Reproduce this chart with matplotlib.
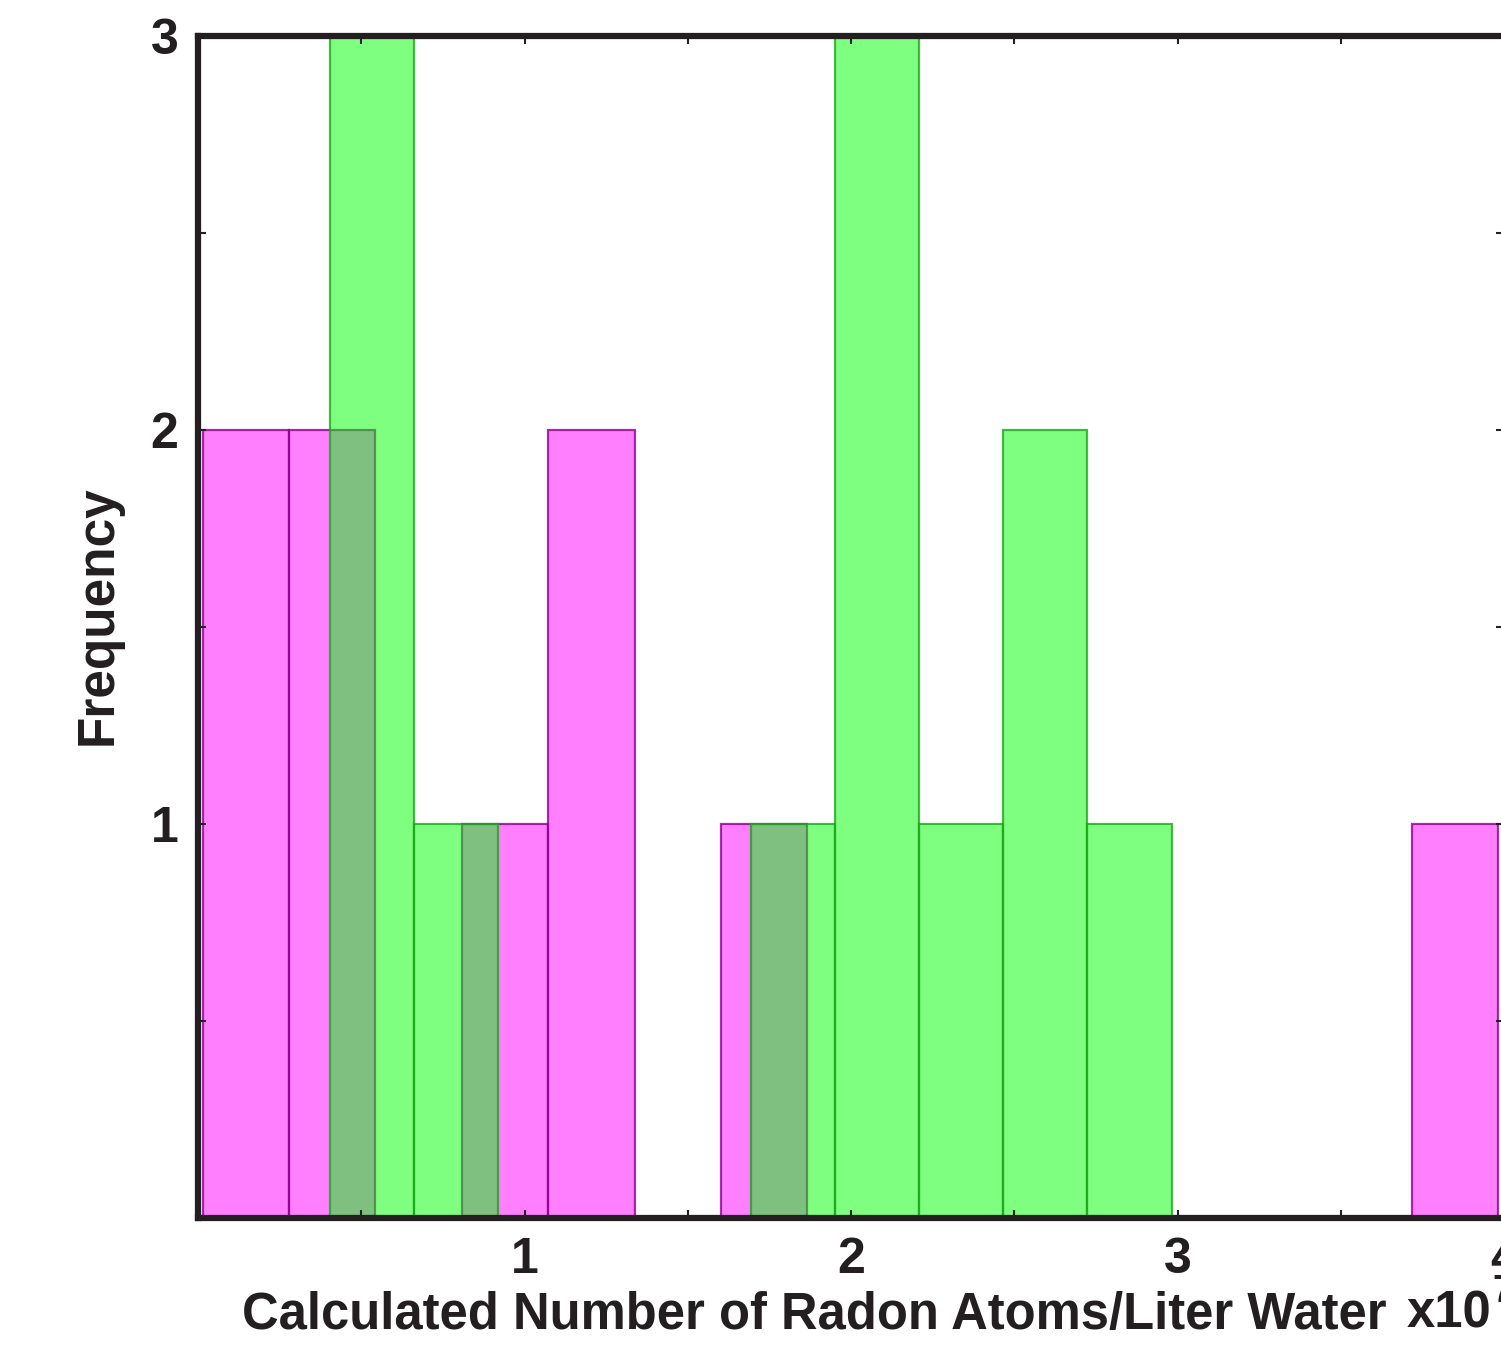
import numpy as np
import matplotlib
matplotlib.use("Agg")
import matplotlib.pyplot as plt
from matplotlib.ticker import FixedLocator

# Histogram bins (x in units of 1e7 atoms/L)
magenta_edges = [0.014, 0.279, 0.543, 0.808, 1.072, 1.337, 1.602, 1.866,
                 2.131, 2.395, 2.660, 2.925, 3.189, 3.454, 3.718, 3.983]
magenta_counts = [2, 2, 0, 1, 2, 0, 1, 0, 0, 0, 0, 0, 0, 0, 1]

green_edges = [0.403, 0.661, 0.919, 1.177, 1.435, 1.693, 1.950, 2.208,
               2.466, 2.724, 2.982]
green_counts = [3, 1, 0, 0, 0, 1, 3, 1, 2, 1]

x_major = [1, 2, 3, 4]
x_minor = [0.5, 1.5, 2.5, 3.5]
y_major = [1, 2, 3]
y_minor = [0.5, 1.5, 2.5]

plt.rcParams['font.family'] = ['Liberation Sans', 'DejaVu Sans']
plt.rcParams['font.weight'] = 'bold'

fig = plt.figure(figsize=(15.01, 13.59), dpi=100)
W, H = 1501, 1359
left, right, top, bottom = 198, 1504, 36, 1218
ax = fig.add_axes([left / W, 1 - bottom / H, (right - left) / W, (bottom - top) / H])

ax.hist(magenta_edges[:-1], bins=magenta_edges, weights=magenta_counts,
        facecolor=(1, 0, 1, 0.5), edgecolor=(0.55, 0, 0.55, 0.8), linewidth=1.6)
ax.hist(green_edges[:-1], bins=green_edges, weights=green_counts,
        facecolor=(0, 1, 0, 0.5), edgecolor=(0.1, 0.65, 0.1, 0.8), linewidth=1.6)

ax.set_xlim(0, 4)
ax.set_ylim(0, 3)

ax.xaxis.set_major_locator(FixedLocator(x_major))
ax.xaxis.set_minor_locator(FixedLocator(x_minor))
ax.yaxis.set_major_locator(FixedLocator(y_major))
ax.yaxis.set_minor_locator(FixedLocator(y_minor))
ax.tick_params(which='both', direction='in', top=True, right=True,
               length=6, width=1.5, labelsize=36, pad=14, color='#222222')
ax.tick_params(axis='y', pad=14)
for lab in ax.get_xticklabels() + ax.get_yticklabels():
    lab.set_fontweight('bold')
    lab.set_color('#231f20')

for s in ax.spines.values():
    s.set_linewidth(4.5)
    s.set_color('#231f20')

ax.set_ylabel('Frequency', fontsize=37, fontweight='bold', color='#231f20')
ax.yaxis.set_label_coords(-0.058, 0.51)
ax.set_xlabel('Calculated Number of Radon Atoms/Liter Water', fontsize=36.5,
              fontweight='bold', color='#231f20')
ax.xaxis.set_label_coords(0.472, -0.062)

# axis multiplier, as in the original export (partly cut by the right edge)
fig.text(1407 / W, 1 - 1327 / H, 'x10', fontsize=36.5, fontweight='bold',
         color='#231f20', ha='left', va='baseline')
fig.text(1492 / W, 1 - 1302 / H, '7', fontsize=27, fontweight='bold',
         color='#231f20', ha='left', va='baseline')

fig.savefig('out.png', dpi=100)
